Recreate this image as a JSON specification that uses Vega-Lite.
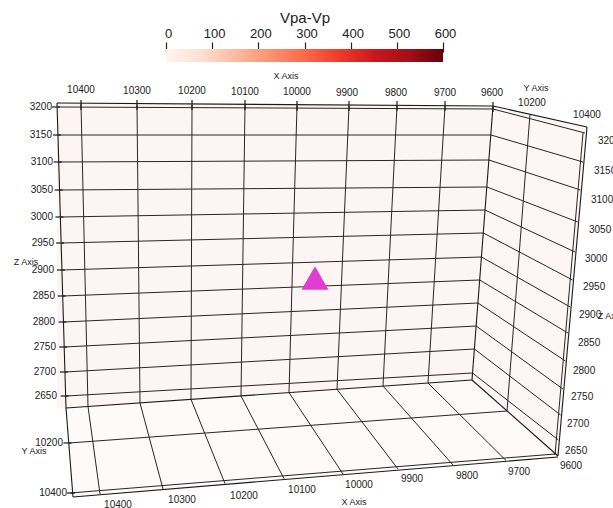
{
  "$schema": "https://vega.github.io/schema/vega-lite/v6.json",
  "width": 613,
  "height": 508,
  "autosize": "none",
  "padding": 0,
  "background": "white",
  "config": {"view": {"stroke": null}, "font": "Liberation Sans"},
  "datasets": {
    "backWall": [
      {"u": 57, "t": 103, "b": 408},
      {"u": 66, "t": 103.1, "b": 408},
      {"u": 472, "t": 105.9, "b": 380},
      {"u": 493, "t": 106, "b": 106}
    ],
    "sideWall": [
      {"u": 472, "t": 380, "b": 380},
      {"u": 493, "t": 106, "b": 398.6},
      {"u": 558, "t": 120.5, "b": 456},
      {"u": 587, "t": 127, "b": 127}
    ],
    "floor": [
      {"u": 66, "t": 408, "b": 408},
      {"u": 73, "t": 407.5, "b": 497},
      {"u": 472, "t": 380, "b": 464},
      {"u": 558, "t": 456, "b": 457}
    ],
    "edges": [
      {"u": 57, "v": 103, "u2": 493, "v2": 106},
      {"u": 57, "v": 103, "u2": 66, "v2": 408},
      {"u": 66, "v": 408, "u2": 73, "v2": 497},
      {"u": 66, "v": 408, "u2": 472, "v2": 380},
      {"u": 493, "v": 106, "u2": 472, "v2": 380},
      {"u": 493, "v": 106, "u2": 587, "v2": 127},
      {"u": 587, "v": 127, "u2": 558, "v2": 456},
      {"u": 472, "v": 380, "u2": 558, "v2": 456},
      {"u": 73, "v": 497, "u2": 558, "v2": 457}
    ],
    "grid": [
      {"plane": "back", "value": 3200, "u": 58, "v": 107, "u2": 493, "v2": 109},
      {"plane": "back", "value": 3150, "u": 58, "v": 135, "u2": 491, "v2": 135},
      {"plane": "back", "value": 3100, "u": 58.8, "v": 162, "u2": 489, "v2": 160},
      {"plane": "back", "value": 3050, "u": 59.6, "v": 190, "u2": 487, "v2": 187},
      {"plane": "back", "value": 3000, "u": 60.4, "v": 217, "u2": 485, "v2": 210},
      {"plane": "back", "value": 2950, "u": 61.2, "v": 243, "u2": 483.4, "v2": 233},
      {"plane": "back", "value": 2900, "u": 62, "v": 270, "u2": 481.5, "v2": 257},
      {"plane": "back", "value": 2850, "u": 62.8, "v": 296, "u2": 479.7, "v2": 280},
      {"plane": "back", "value": 2800, "u": 63.5, "v": 322, "u2": 478, "v2": 303},
      {"plane": "back", "value": 2750, "u": 64.3, "v": 347, "u2": 476.2, "v2": 326},
      {"plane": "back", "value": 2700, "u": 65, "v": 372, "u2": 474.4, "v2": 349},
      {"plane": "back", "value": 2650, "u": 65.8, "v": 396, "u2": 472.5, "v2": 373},
      {"plane": "back", "value": 10400, "u": 81, "v": 104, "u2": 88, "v2": 406.5},
      {"plane": "back", "value": 10300, "u": 137, "v": 104.5, "u2": 140, "v2": 403},
      {"plane": "back", "value": 10200, "u": 192, "v": 105, "u2": 191, "v2": 399.4},
      {"plane": "back", "value": 10100, "u": 245, "v": 105, "u2": 241, "v2": 396},
      {"plane": "back", "value": 10000, "u": 297, "v": 105.5, "u2": 289, "v2": 392.6},
      {"plane": "back", "value": 9900, "u": 349, "v": 106, "u2": 337, "v2": 389.3},
      {"plane": "back", "value": 9800, "u": 397, "v": 106, "u2": 383, "v2": 386},
      {"plane": "back", "value": 9700, "u": 445, "v": 106.5, "u2": 428, "v2": 383},
      {"plane": "floor", "value": 10400, "u": 88, "v": 406.5, "u2": 100, "v2": 494},
      {"plane": "floor", "value": 10300, "u": 140, "v": 403, "u2": 163, "v2": 489},
      {"plane": "floor", "value": 10200, "u": 191, "v": 399.4, "u2": 225, "v2": 483.5},
      {"plane": "floor", "value": 10100, "u": 241, "v": 396, "u2": 284, "v2": 478.7},
      {"plane": "floor", "value": 10000, "u": 289, "v": 392.6, "u2": 343, "v2": 474},
      {"plane": "floor", "value": 9900, "u": 337, "v": 389.3, "u2": 398, "v2": 469},
      {"plane": "floor", "value": 9800, "u": 383, "v": 386, "u2": 453, "v2": 465},
      {"plane": "floor", "value": 9700, "u": 428, "v": 383, "u2": 506, "v2": 460.5},
      {"plane": "floor", "value": 10200, "u": 69, "v": 443, "u2": 507, "v2": 411},
      {"plane": "floor", "value": 10400, "u": 70, "v": 493, "u2": 555, "v2": 454},
      {"plane": "side", "value": 3200, "u": 493, "v": 109, "u2": 585, "v2": 133},
      {"plane": "side", "value": 3150, "u": 491, "v": 135, "u2": 583, "v2": 162},
      {"plane": "side", "value": 3100, "u": 489, "v": 160, "u2": 580.5, "v2": 190},
      {"plane": "side", "value": 3050, "u": 487, "v": 187, "u2": 577.7, "v2": 222},
      {"plane": "side", "value": 3000, "u": 485, "v": 210, "u2": 575, "v2": 252},
      {"plane": "side", "value": 2950, "u": 483.4, "v": 233, "u2": 572.6, "v2": 280},
      {"plane": "side", "value": 2900, "u": 481.5, "v": 257, "u2": 570.2, "v2": 307},
      {"plane": "side", "value": 2850, "u": 479.7, "v": 280, "u2": 567.9, "v2": 333},
      {"plane": "side", "value": 2800, "u": 478, "v": 303, "u2": 565.4, "v2": 361},
      {"plane": "side", "value": 2750, "u": 476.2, "v": 326, "u2": 562.9, "v2": 389},
      {"plane": "side", "value": 2700, "u": 474.4, "v": 349, "u2": 560.6, "v2": 415},
      {"plane": "side", "value": 2650, "u": 472.5, "v": 373, "u2": 558.4, "v2": 440},
      {"plane": "side", "value": 10200, "u": 530, "v": 114, "u2": 507, "v2": 411},
      {"plane": "side", "value": 10400, "u": 583, "v": 133, "u2": 555, "v2": 455}
    ],
    "ticks": [
      {"u": 52, "v": 107, "u2": 60, "v2": 107},
      {"u": 53, "v": 135, "u2": 61, "v2": 135},
      {"u": 53.7, "v": 162, "u2": 61.7, "v2": 162},
      {"u": 54.6, "v": 190, "u2": 62.6, "v2": 190},
      {"u": 55.4, "v": 217, "u2": 63.4, "v2": 217},
      {"u": 56.1, "v": 243, "u2": 64.1, "v2": 243},
      {"u": 56.9, "v": 270, "u2": 64.9, "v2": 270},
      {"u": 57.7, "v": 296, "u2": 65.7, "v2": 296},
      {"u": 58.5, "v": 322, "u2": 66.5, "v2": 322},
      {"u": 59.2, "v": 347, "u2": 67.2, "v2": 347},
      {"u": 59.9, "v": 372, "u2": 67.9, "v2": 372},
      {"u": 60.6, "v": 396, "u2": 68.6, "v2": 396},
      {"u": 63.5, "v": 443, "u2": 71.5, "v2": 443},
      {"u": 67, "v": 493, "u2": 75, "v2": 493},
      {"u": 81, "v": 100, "u2": 81, "v2": 110},
      {"u": 137, "v": 100, "u2": 137, "v2": 110},
      {"u": 192, "v": 100, "u2": 192, "v2": 110},
      {"u": 245, "v": 100, "u2": 245, "v2": 110},
      {"u": 297, "v": 101, "u2": 297, "v2": 111},
      {"u": 349, "v": 101, "u2": 349, "v2": 111},
      {"u": 397, "v": 101, "u2": 397, "v2": 111},
      {"u": 445, "v": 101, "u2": 445, "v2": 111},
      {"u": 493, "v": 102, "u2": 493, "v2": 112}
    ],
    "labels": [
      {"side": "top", "u": 81, "v": 90, "text": "10400"},
      {"side": "top", "u": 137, "v": 91, "text": "10300"},
      {"side": "top", "u": 192, "v": 91, "text": "10200"},
      {"side": "top", "u": 245, "v": 92, "text": "10100"},
      {"side": "top", "u": 297, "v": 92, "text": "10000"},
      {"side": "top", "u": 347, "v": 93, "text": "9900"},
      {"side": "top", "u": 396, "v": 93, "text": "9800"},
      {"side": "top", "u": 445, "v": 93, "text": "9700"},
      {"side": "top", "u": 492, "v": 93, "text": "9600"},
      {"side": "top", "u": 532, "v": 103, "text": "10200"},
      {"side": "top", "u": 587, "v": 115, "text": "10400"},
      {"side": "bottom", "u": 118, "v": 505, "text": "10400"},
      {"side": "bottom", "u": 182, "v": 500, "text": "10300"},
      {"side": "bottom", "u": 244, "v": 496, "text": "10200"},
      {"side": "bottom", "u": 302, "v": 490, "text": "10100"},
      {"side": "bottom", "u": 359, "v": 485, "text": "10000"},
      {"side": "bottom", "u": 412, "v": 479, "text": "9900"},
      {"side": "bottom", "u": 467, "v": 476, "text": "9800"},
      {"side": "bottom", "u": 519, "v": 472, "text": "9700"},
      {"side": "bottom", "u": 571, "v": 466, "text": "9600"},
      {"side": "left", "u": 52, "v": 107, "text": "3200"},
      {"side": "left", "u": 52, "v": 135, "text": "3150"},
      {"side": "left", "u": 53, "v": 162, "text": "3100"},
      {"side": "left", "u": 53, "v": 190, "text": "3050"},
      {"side": "left", "u": 53, "v": 217, "text": "3000"},
      {"side": "left", "u": 54, "v": 243, "text": "2950"},
      {"side": "left", "u": 54, "v": 270, "text": "2900"},
      {"side": "left", "u": 55, "v": 296, "text": "2850"},
      {"side": "left", "u": 55, "v": 322, "text": "2800"},
      {"side": "left", "u": 56, "v": 347, "text": "2750"},
      {"side": "left", "u": 56, "v": 372, "text": "2700"},
      {"side": "left", "u": 57, "v": 396, "text": "2650"},
      {"side": "left", "u": 63, "v": 443, "text": "10200"},
      {"side": "left", "u": 67, "v": 493, "text": "10400"},
      {"side": "right", "u": 598, "v": 141, "text": "3200"},
      {"side": "right", "u": 594, "v": 171, "text": "3150"},
      {"side": "right", "u": 591, "v": 200, "text": "3100"},
      {"side": "right", "u": 589, "v": 230, "text": "3050"},
      {"side": "right", "u": 585, "v": 259, "text": "3000"},
      {"side": "right", "u": 583, "v": 287, "text": "2950"},
      {"side": "right", "u": 579, "v": 315, "text": "2900"},
      {"side": "right", "u": 578, "v": 343, "text": "2850"},
      {"side": "right", "u": 573, "v": 371, "text": "2800"},
      {"side": "right", "u": 571, "v": 397, "text": "2750"},
      {"side": "right", "u": 567, "v": 424, "text": "2700"},
      {"side": "right", "u": 565, "v": 451, "text": "2650"},
      {"side": "title", "u": 286, "v": 76, "text": "X Axis"},
      {"side": "title", "u": 536, "v": 88, "text": "Y Axis"},
      {"side": "title", "u": 26, "v": 262, "text": "Z Axis"},
      {"side": "title", "u": 34, "v": 451, "text": "Y Axis"},
      {"side": "title", "u": 354, "v": 502, "text": "X Axis"},
      {"side": "title", "u": 610, "v": 316, "text": "Z Axis"}
    ],
    "stations": [{"name": "source", "u": 315, "v": 278}],
    "colorbar": [{"lo": 0, "hi": 600, "v": 49, "v2": 62}]
  },
  "resolve": {"scale": {"x": "independent"}},
  "layer": [
    {
      "layer": [
        {
          "data": {"name": "backWall"},
          "mark": {"type": "area", "orient": "vertical", "color": "#fdf5f3"},
          "encoding": {
            "x": {"field": "u", "type": "quantitative", "scale": {"domain": [0, 613], "range": [0, 613], "nice": false, "zero": false}, "axis": null},
            "y": {"field": "t", "type": "quantitative", "scale": {"domain": [0, 508], "range": [0, 508], "nice": false, "zero": false}, "axis": null, "stack": null},
            "y2": {"field": "b"}
          }
        },
        {
          "data": {"name": "sideWall"},
          "mark": {"type": "area", "orient": "vertical", "color": "#fdf6f4"},
          "encoding": {
            "x": {"field": "u", "type": "quantitative", "axis": null},
            "y": {"field": "t", "type": "quantitative", "axis": null, "stack": null},
            "y2": {"field": "b"}
          }
        },
        {
          "data": {"name": "floor"},
          "mark": {"type": "area", "orient": "vertical", "color": "#fefaf9"},
          "encoding": {
            "x": {"field": "u", "type": "quantitative", "axis": null},
            "y": {"field": "t", "type": "quantitative", "axis": null, "stack": null},
            "y2": {"field": "b"}
          }
        },
        {
          "data": {"name": "grid"},
          "mark": {"type": "rule", "color": "#262626", "strokeWidth": 1},
          "encoding": {
            "x": {"field": "u", "type": "quantitative", "axis": null},
            "y": {"field": "v", "type": "quantitative", "axis": null},
            "x2": {"field": "u2"},
            "y2": {"field": "v2"}
          }
        },
        {
          "data": {"name": "edges"},
          "mark": {"type": "rule", "color": "#1a1a1a", "strokeWidth": 1.1},
          "encoding": {
            "x": {"field": "u", "type": "quantitative", "axis": null},
            "y": {"field": "v", "type": "quantitative", "axis": null},
            "x2": {"field": "u2"},
            "y2": {"field": "v2"}
          }
        },
        {
          "data": {"name": "ticks"},
          "mark": {"type": "rule", "color": "#1a1a1a", "strokeWidth": 1.2},
          "encoding": {
            "x": {"field": "u", "type": "quantitative", "axis": null},
            "y": {"field": "v", "type": "quantitative", "axis": null},
            "x2": {"field": "u2"},
            "y2": {"field": "v2"}
          }
        },
        {
          "data": {"name": "labels"},
          "transform": [{"filter": {"field": "side", "oneOf": ["top", "bottom"]}}],
          "mark": {"type": "text", "align": "center", "baseline": "middle", "fontSize": 10, "color": "#222222"},
          "encoding": {
            "x": {"field": "u", "type": "quantitative", "axis": null},
            "y": {"field": "v", "type": "quantitative", "axis": null},
            "text": {"field": "text"}
          }
        },
        {
          "data": {"name": "labels"},
          "transform": [{"filter": {"field": "side", "equal": "left"}}],
          "mark": {"type": "text", "align": "right", "baseline": "middle", "fontSize": 10, "color": "#222222"},
          "encoding": {
            "x": {"field": "u", "type": "quantitative", "axis": null},
            "y": {"field": "v", "type": "quantitative", "axis": null},
            "text": {"field": "text"}
          }
        },
        {
          "data": {"name": "labels"},
          "transform": [{"filter": {"field": "side", "equal": "right"}}],
          "mark": {"type": "text", "align": "left", "baseline": "middle", "fontSize": 10, "color": "#222222"},
          "encoding": {
            "x": {"field": "u", "type": "quantitative", "axis": null},
            "y": {"field": "v", "type": "quantitative", "axis": null},
            "text": {"field": "text"}
          }
        },
        {
          "data": {"name": "labels"},
          "transform": [{"filter": {"field": "side", "equal": "title"}}],
          "mark": {"type": "text", "align": "center", "baseline": "middle", "fontSize": 9, "color": "#222222"},
          "encoding": {
            "x": {"field": "u", "type": "quantitative", "axis": null},
            "y": {"field": "v", "type": "quantitative", "axis": null},
            "text": {"field": "text"}
          }
        },
        {
          "data": {"name": "stations"},
          "mark": {"type": "point", "shape": "triangle-up", "filled": true, "size": 730, "color": "#e03ccf", "opacity": 1},
          "encoding": {
            "x": {"field": "u", "type": "quantitative", "axis": null},
            "y": {"field": "v", "type": "quantitative", "axis": null}
          }
        }
      ]
    },
    {
      "data": {"name": "colorbar"},
      "mark": {
        "type": "rect",
        "fill": {
          "gradient": "linear",
          "x1": 0, "y1": 0, "x2": 1, "y2": 0,
          "stops": [
            {"offset": 0, "color": "#fff5f0"},
            {"offset": 0.125, "color": "#fee0d2"},
            {"offset": 0.25, "color": "#fcbba1"},
            {"offset": 0.375, "color": "#fc9272"},
            {"offset": 0.5, "color": "#fb6a4a"},
            {"offset": 0.625, "color": "#ef3b2c"},
            {"offset": 0.75, "color": "#cb181d"},
            {"offset": 0.875, "color": "#a50f15"},
            {"offset": 1, "color": "#67000d"}
          ]
        }
      },
      "encoding": {
        "x": {
          "field": "lo", "type": "quantitative",
          "scale": {"domain": [0, 600], "range": [166, 443], "nice": false, "zero": false},
          "axis": {
            "orient": "top", "offset": -52, "title": "Vpa-Vp",
            "values": [0, 100, 200, 300, 400, 500, 600],
            "domain": false, "grid": false,
            "tickSize": 10, "tickWidth": 1.2, "tickColor": "#222222",
            "labelFontSize": 13, "labelPadding": 2, "labelColor": "#222222",
            "labelFlush": false, "labelOverlap": false, "labelOffset": 2,
            "titleFontSize": 15, "titleFontWeight": "normal", "titleColor": "#222222", "titlePadding": 2
          }
        },
        "x2": {"field": "hi"},
        "y": {"field": "v", "type": "quantitative", "axis": null},
        "y2": {"field": "v2"}
      }
    }
  ]
}
